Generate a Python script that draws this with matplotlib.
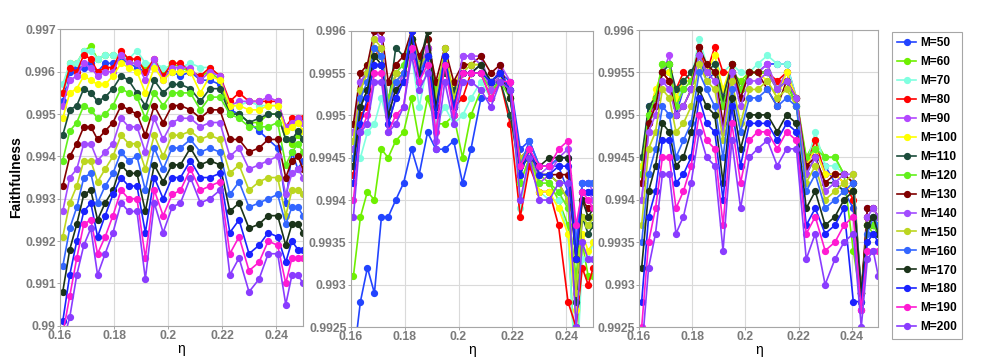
import numpy as np
import matplotlib
matplotlib.use("Agg")
import matplotlib.pyplot as plt

# ------------------------------
# DATA
# ------------------------------

ETA = [0.1610, 0.1636, 0.1662, 0.1688, 0.1714, 0.1739, 0.1767, 0.1796, 0.1826, 0.1854,
       0.1885, 0.1916, 0.1949, 0.1982, 0.2015, 0.2046, 0.2083, 0.2120, 0.2155, 0.2192,
       0.2229, 0.2263, 0.2300, 0.2337, 0.2371, 0.2406, 0.2436, 0.2459, 0.2481, 0.2500]

M_LABELS = ["M=50", "M=60", "M=70", "M=80", "M=90", "M=100", "M=110", "M=120",
            "M=130", "M=140", "M=150", "M=160", "M=170", "M=180", "M=190", "M=200"]

COLORS = ["#2244ff", "#6ef000", "#80ffe0", "#ff0000", "#b347ff", "#ffff00", "#1c4d3c", "#62f01c",
          "#800000", "#a24cff", "#bcd620", "#3366ff", "#1b331a", "#1a22ff", "#ff1ad2", "#8a3cff"]

# panel 1
P1_M50 = [.9953, .9960, .9961, .9961, .9962, .9960, .9962, .9962, .9963, .9962, .9961, .9960, .9962, .9960, .9960,
          .9959, .9960, .9958, .9958, .9957, .9951, .9950, .9948, .9946, .9944, .9942, .9929, .9941, .9937, .9939]
P1_M60 = [.9955, .9962, .9962, .9965, .9966, .9963, .9964, .9964, .9964, .9962, .9962, .9961, .9962, .9960, .9962,
          .9961, .9960, .9959, .9960, .9958, .9950, .9950, .9948, .9948, .9950, .9950, .9944, .9943, .9945, .9944]
P1_M70 = [.9957, .9962, .9962, .9965, .9965, .9963, .9964, .9964, .9964, .9963, .9965, .9962, .9962, .9961, .9961,
          .9961, .9962, .9961, .9961, .9959, .9952, .9952, .9953, .9952, .9952, .9952, .9946, .9947, .9948, .9948]
P1_M80 = [.9955, .9961, .9960, .9964, .9963, .9960, .9961, .9961, .9965, .9963, .9963, .9960, .9963, .9959, .9962,
          .9962, .9960, .9959, .9961, .9959, .9953, .9955, .9953, .9953, .9953, .9953, .9947, .9949, .9949, .9949]
P1_M90 = [.9952, .9958, .9959, .9962, .9961, .9959, .9960, .9960, .9964, .9962, .9962, .9958, .9963, .9958, .9961,
          .9961, .9961, .9958, .9960, .9959, .9952, .9953, .9953, .9953, .9954, .9953, .9947, .9948, .9949, .9948]
P1_M100 = [.9949, .9955, .9956, .9959, .9958, .9957, .9957, .9959, .9962, .9961, .9960, .9955, .9961, .9958, .9960,
           .9960, .9960, .9955, .9959, .9958, .9952, .9952, .9951, .9951, .9952, .9952, .9946, .9947, .9948, .9946]
P1_M110 = [.9945, .9951, .9952, .9956, .9955, .9953, .9954, .9956, .9959, .9958, .9955, .9952, .9958, .9955, .9957,
           .9957, .9956, .9953, .9956, .9956, .9950, .9950, .9948, .9949, .9950, .9950, .9944, .9944, .9946, .9944]
P1_M120 = [.9939, .9946, .9948, .9952, .9951, .9949, .9950, .9952, .9956, .9955, .9954, .9949, .9955, .9952, .9955,
           .9955, .9955, .9951, .9954, .9954, .9950, .9949, .9947, .9947, .9947, .9948, .9938, .9941, .9943, .9941]
P1_M130 = [.9933, .9940, .9943, .9947, .9947, .9944, .9946, .9948, .9952, .9951, .9950, .9945, .9952, .9948, .9952,
           .9952, .9951, .9949, .9951, .9951, .9944, .9944, .9941, .9942, .9944, .9944, .9935, .9939, .9940, .9937]
P1_M140 = [.9927, .9935, .9937, .9943, .9943, .9939, .9941, .9943, .9949, .9947, .9947, .9941, .9949, .9944, .9948,
           .9949, .9949, .9947, .9948, .9948, .9940, .9942, .9937, .9938, .9939, .9940, .9931, .9936, .9937, .9935]
P1_M150 = [.9921, .9929, .9933, .9939, .9939, .9934, .9937, .9940, .9945, .9943, .9943, .9937, .9945, .9940, .9945,
           .9945, .9946, .9944, .9945, .9944, .9936, .9938, .9932, .9934, .9935, .9935, .9926, .9932, .9932, .9931]
P1_M160 = [.9914, .9923, .9928, .9935, .9936, .9929, .9933, .9936, .9941, .9939, .9940, .9932, .9942, .9937, .9942,
           .9942, .9944, .9941, .9942, .9941, .9931, .9934, .9928, .9929, .9930, .9931, .9924, .9928, .9928, .9926]
P1_M170 = [.9908, .9918, .9924, .9931, .9932, .9925, .9929, .9932, .9938, .9936, .9936, .9927, .9938, .9934, .9938,
           .9938, .9942, .9938, .9939, .9938, .9927, .9929, .9923, .9924, .9926, .9926, .9919, .9924, .9924, .9922]
P1_M180 = [.9901, .9912, .9920, .9927, .9929, .9921, .9926, .9931, .9935, .9933, .9933, .9922, .9935, .9930, .9935,
           .9935, .9939, .9935, .9935, .9936, .9922, .9925, .9917, .9919, .9922, .9921, .9915, .9920, .9918, .9918]
P1_M190 = [.9898, .9907, .9916, .9924, .9925, .9917, .9921, .9926, .9932, .9930, .9930, .9916, .9932, .9926, .9931,
           .9932, .9937, .9932, .9933, .9934, .9917, .9921, .9913, .9915, .9920, .9919, .9910, .9916, .9916, .9916]
P1_M200 = [.9896, .9902, .9912, .9919, .9923, .9912, .9917, .9922, .9929, .9927, .9927, .9911, .9929, .9922, .9928,
           .9929, .9935, .9929, .9930, .9932, .9912, .9916, .9908, .9911, .9917, .9917, .9905, .9912, .9912, .9910]

# panel 2
P2_M50 = [.9921, .9928, .9932, .9929, .9938, .9938, .9940, .9942, .9946, .9943, .9948, .9946, .9946, .9947, .9942,
          .9946, .9952, .9952, .9955, .9954, .9946, .9947, .9944, .9944, .9944, .9941, .9928, .9942, .9942, .9942]
P2_M60 = [.9931, .9938, .9941, .9940, .9946, .9945, .9947, .9948, .9952, .9947, .9952, .9949, .9949, .9950, .9945,
          .9950, .9953, .9953, .9954, .9953, .9944, .9945, .9943, .9942, .9940, .9937, .9918, .9935, .9931, .9931]
P2_M70 = [.9945, .9945, .9948, .9949, .9952, .9949, .9952, .9955, .9957, .9951, .9956, .9949, .9951, .9949, .9950,
          .9952, .9954, .9952, .9954, .9953, .9939, .9945, .9941, .9940, .9940, .9936, .9918, .9933, .9933, .9935]
P2_M80 = [.9943, .9950, .9951, .9957, .9958, .9951, .9955, .9955, .9959, .9955, .9958, .9950, .9957, .9951, .9952,
          .9955, .9955, .9952, .9954, .9949, .9938, .9944, .9941, .9941, .9937, .9928, .9925, .9932, .9930, .9932]
P2_M90 = [.9948, .9954, .9955, .9960, .9959, .9949, .9952, .9955, .9958, .9955, .9958, .9947, .9957, .9950, .9957,
          .9957, .9957, .9953, .9956, .9954, .9944, .9946, .9942, .9943, .9945, .9945, .9933, .9941, .9941, .9940]
P2_M100 = [.9947, .9953, .9955, .9958, .9957, .9951, .9954, .9955, .9959, .9955, .9957, .9952, .9957, .9953, .9956,
           .9956, .9956, .9953, .9955, .9953, .9942, .9945, .9941, .9941, .9939, .9936, .9927, .9936, .9934, .9935]
P2_M110 = [.9944, .9951, .9953, .9957, .9957, .9951, .9958, .9957, .9959, .9956, .9960, .9953, .9955, .9953, .9955,
           .9955, .9955, .9954, .9954, .9950, .9943, .9946, .9943, .9943, .9942, .9940, .9928, .9938, .9936, .9937]
P2_M120 = [.9946, .9953, .9956, .9958, .9957, .9952, .9955, .9956, .9960, .9956, .9957, .9953, .9957, .9952, .9955,
           .9955, .9955, .9953, .9954, .9952, .9942, .9945, .9942, .9942, .9941, .9939, .9931, .9938, .9937, .9938]
P2_M130 = [.9949, .9955, .9956, .9960, .9960, .9954, .9956, .9957, .9960, .9957, .9959, .9954, .9958, .9954, .9956,
           .9956, .9957, .9955, .9956, .9952, .9945, .9946, .9943, .9943, .9943, .9943, .9933, .9940, .9939, .9939]
P2_M140 = [.9946, .9954, .9955, .9959, .9959, .9951, .9953, .9955, .9958, .9955, .9957, .9951, .9957, .9951, .9957,
           .9957, .9956, .9953, .9955, .9953, .9944, .9946, .9943, .9944, .9945, .9946, .9935, .9942, .9942, .9941]
P2_M150 = [.9947, .9953, .9955, .9959, .9958, .9951, .9955, .9955, .9959, .9956, .9957, .9952, .9958, .9952, .9955,
           .9956, .9956, .9954, .9955, .9952, .9945, .9946, .9943, .9943, .9942, .9940, .9929, .9938, .9937, .9938]
P2_M160 = [.9945, .9952, .9954, .9958, .9957, .9951, .9954, .9955, .9960, .9955, .9957, .9951, .9957, .9951, .9955,
           .9955, .9956, .9954, .9955, .9953, .9944, .9947, .9944, .9944, .9945, .9945, .9935, .9942, .9942, .9942]
P2_M170 = [.9944, .9951, .9953, .9957, .9956, .9950, .9953, .9954, .9959, .9955, .9960, .9951, .9956, .9951, .9955,
           .9955, .9956, .9954, .9955, .9952, .9944, .9945, .9944, .9945, .9945, .9945, .9933, .9940, .9938, .9939]
P2_M180 = [.9942, .9949, .9952, .9956, .9956, .9949, .9952, .9954, .9960, .9954, .9957, .9950, .9957, .9951, .9955,
           .9955, .9955, .9954, .9955, .9953, .9943, .9946, .9943, .9943, .9944, .9944, .9933, .9941, .9941, .9941]
P2_M190 = [.9940, .9948, .9950, .9955, .9955, .9948, .9950, .9951, .9958, .9954, .9956, .9948, .9956, .9950, .9955,
           .9955, .9955, .9952, .9954, .9954, .9944, .9946, .9944, .9944, .9946, .9947, .9937, .9941, .9940, .9939]
P2_M200 = [.9938, .9948, .9949, .9954, .9954, .9948, .9949, .9951, .9957, .9953, .9955, .9946, .9954, .9949, .9954,
           .9954, .9953, .9951, .9954, .9953, .9940, .9945, .9940, .9940, .9942, .9942, .9925, .9935, .9933, .9933]

# panel 3
P3_M50 = [.9944, .9951, .9952, .9955, .9955, .9950, .9953, .9953, .9957, .9954, .9955, .9951, .9955, .9952, .9955,
          .9955, .9956, .9956, .9956, .9952, .9944, .9945, .9944, .9942, .9941, .9939, .9929, .9938, .9938, .9938]
P3_M60 = [.9943, .9950, .9952, .9956, .9956, .9952, .9954, .9954, .9957, .9955, .9955, .9953, .9955, .9954, .9955,
          .9955, .9955, .9953, .9955, .9952, .9945, .9947, .9945, .9945, .9943, .9934, .9928, .9937, .9936, .9936]
P3_M70 = [.9944, .9950, .9952, .9955, .9955, .9951, .9954, .9954, .9959, .9956, .9956, .9955, .9956, .9955, .9955,
          .9956, .9957, .9956, .9956, .9952, .9944, .9948, .9944, .9944, .9943, .9942, .9929, .9937, .9937, .9936]
P3_M80 = [.9942, .9949, .9952, .9955, .9954, .9953, .9955, .9954, .9958, .9955, .9958, .9955, .9955, .9953, .9955,
          .9955, .9955, .9954, .9955, .9952, .9944, .9947, .9943, .9943, .9942, .9940, .9929, .9938, .9937, .9937]
P3_M90 = [.9940, .9948, .9952, .9955, .9957, .9951, .9953, .9953, .9957, .9955, .9955, .9952, .9956, .9952, .9955,
          .9955, .9956, .9953, .9955, .9952, .9944, .9946, .9943, .9943, .9943, .9942, .9927, .9939, .9939, .9938]
P3_M100 = [.9944, .9950, .9953, .9955, .9955, .9952, .9954, .9954, .9957, .9955, .9957, .9953, .9956, .9953, .9955,
           .9955, .9954, .9952, .9955, .9952, .9944, .9946, .9943, .9943, .9942, .9941, .9929, .9937, .9937, .9937]
P3_M110 = [.9945, .9951, .9952, .9955, .9956, .9953, .9954, .9955, .9957, .9955, .9956, .9952, .9956, .9953, .9955,
           .9955, .9955, .9953, .9954, .9951, .9943, .9945, .9942, .9942, .9941, .9941, .9929, .9937, .9937, .9936]
P3_M120 = [.9943, .9950, .9952, .9956, .9956, .9951, .9953, .9954, .9957, .9955, .9955, .9951, .9955, .9953, .9955,
           .9955, .9955, .9953, .9954, .9951, .9945, .9946, .9945, .9945, .9943, .9942, .9928, .9937, .9937, .9936]
P3_M130 = [.9942, .9949, .9951, .9955, .9954, .9950, .9951, .9953, .9958, .9956, .9955, .9949, .9956, .9952, .9955,
           .9955, .9953, .9951, .9954, .9952, .9944, .9945, .9942, .9943, .9943, .9942, .9929, .9939, .9939, .9938]
P3_M140 = [.9940, .9948, .9950, .9954, .9953, .9950, .9951, .9953, .9957, .9955, .9954, .9948, .9955, .9951, .9954,
           .9954, .9955, .9953, .9954, .9952, .9943, .9945, .9941, .9942, .9943, .9943, .9927, .9938, .9939, .9938]
P3_M150 = [.9937, .9946, .9948, .9953, .9952, .9948, .9949, .9951, .9956, .9954, .9953, .9947, .9954, .9949, .9953,
           .9953, .9954, .9952, .9953, .9951, .9942, .9944, .9940, .9941, .9942, .9943, .9929, .9937, .9938, .9937]
P3_M160 = [.9935, .9943, .9946, .9951, .9950, .9945, .9947, .9949, .9955, .9953, .9951, .9945, .9953, .9948, .9952,
           .9952, .9953, .9951, .9952, .9951, .9941, .9943, .9939, .9940, .9941, .9942, .9929, .9936, .9938, .9937]
P3_M170 = [.9932, .9941, .9944, .9949, .9948, .9944, .9945, .9948, .9953, .9951, .9950, .9942, .9952, .9946, .9950,
           .9950, .9950, .9948, .9950, .9949, .9939, .9941, .9937, .9938, .9940, .9941, .9929, .9937, .9938, .9936]
P3_M180 = [.9928, .9938, .9941, .9947, .9947, .9942, .9943, .9945, .9952, .9949, .9948, .9940, .9951, .9944, .9949,
           .9949, .9949, .9947, .9949, .9948, .9937, .9939, .9936, .9937, .9939, .9928, .9928, .9935, .9936, .9935]
P3_M190 = [.9925, .9935, .9939, .9945, .9945, .9939, .9941, .9944, .9950, .9947, .9946, .9937, .9949, .9942, .9947,
           .9948, .9948, .9946, .9948, .9947, .9936, .9938, .9934, .9935, .9937, .9938, .9927, .9934, .9934, .9934]
P3_M200 = [.9922, .9932, .9936, .9943, .9943, .9936, .9938, .9942, .9948, .9945, .9944, .9934, .9947, .9939, .9945,
           .9946, .9947, .9944, .9946, .9946, .9933, .9936, .9930, .9933, .9935, .9936, .9925, .9933, .9934, .9931]

PANEL1 = [P1_M50, P1_M60, P1_M70, P1_M80, P1_M90, P1_M100, P1_M110, P1_M120,
          P1_M130, P1_M140, P1_M150, P1_M160, P1_M170, P1_M180, P1_M190, P1_M200]
PANEL2 = [P2_M50, P2_M60, P2_M70, P2_M80, P2_M90, P2_M100, P2_M110, P2_M120,
          P2_M130, P2_M140, P2_M150, P2_M160, P2_M170, P2_M180, P2_M190, P2_M200]
PANEL3 = [P3_M50, P3_M60, P3_M70, P3_M80, P3_M90, P3_M100, P3_M110, P3_M120,
          P3_M130, P3_M140, P3_M150, P3_M160, P3_M170, P3_M180, P3_M190, P3_M200]

X_TICKS = [0.16, 0.18, 0.2, 0.22, 0.24]
X_TICKLABELS = ["0.16", "0.18", "0.2", "0.22", "0.24"]
Y1_TICKS = [0.990, 0.991, 0.992, 0.993, 0.994, 0.995, 0.996, 0.997]
Y1_TICKLABELS = ["0.99", "0.991", "0.992", "0.993", "0.994", "0.995", "0.996", "0.997"]
Y2_TICKS = [0.9925, 0.993, 0.9935, 0.994, 0.9945, 0.995, 0.9955, 0.996]
Y2_TICKLABELS = ["0.9925", "0.993", "0.9935", "0.994", "0.9945", "0.995", "0.9955", "0.996"]

# ------------------------------
# STYLE
# ------------------------------

plt.rcParams['font.family'] = ['Liberation Sans', 'DejaVu Sans']
TICK_GRAY = "#7a7a7a"
FRAME_GRAY = "#a6a6a6"
GRID_GRAY = "#dadada"


def style_axes(ax, yticks, ylabels, ylim):
    ax.set_xlim(0.16, 0.25)
    ax.set_ylim(*ylim)
    ax.set_xticks(X_TICKS)
    ax.set_xticklabels(X_TICKLABELS)
    ax.set_yticks(yticks)
    ax.set_yticklabels(ylabels)
    ax.grid(True, color=GRID_GRAY, linewidth=0.8)
    ax.set_axisbelow(True)
    for sp in ax.spines.values():
        sp.set_color(FRAME_GRAY)
        sp.set_linewidth(0.8)
    ax.tick_params(direction='out', length=2, width=0.7, color=FRAME_GRAY,
                   labelcolor=TICK_GRAY, labelsize=8.8, pad=1)
    for lab in ax.get_xticklabels() + ax.get_yticklabels():
        lab.set_fontweight('bold')
    ax.set_xlabel("η", fontsize=10, labelpad=0)


def draw_panel(ax, series):
    lines = []
    for vals, col, lab in zip(series, COLORS, M_LABELS):
        ln, = ax.plot(ETA, vals, color=col, marker='o', markersize=4.2,
                      linewidth=1.2, label=lab)
        lines.append(ln)
    return lines


if __name__ == "__main__":
    fig = plt.figure(figsize=(9.81, 3.64), dpi=100)
    ax1 = fig.add_axes([0.0612, 0.1052, 0.2477, 0.8140])
    ax2 = fig.add_axes([0.3575, 0.1016, 0.2473, 0.8140])
    ax3 = fig.add_axes([0.6514, 0.1016, 0.2439, 0.8159])

    handles = draw_panel(ax1, PANEL1)
    draw_panel(ax2, PANEL2)
    draw_panel(ax3, PANEL3)

    style_axes(ax1, Y1_TICKS, Y1_TICKLABELS, (0.990, 0.997))
    style_axes(ax2, Y2_TICKS, Y2_TICKLABELS, (0.9925, 0.996))
    style_axes(ax3, Y2_TICKS, Y2_TICKLABELS, (0.9925, 0.996))
    ax1.set_ylabel("Faithfulness", fontsize=10, fontweight='bold')
    ax1.yaxis.set_label_coords(-0.152, 0.5)

    leg = fig.legend(handles=handles, loc='upper left', bbox_to_anchor=(892 / 981, 1 - 32 / 364),
                     frameon=True, fancybox=False, edgecolor=FRAME_GRAY, framealpha=1,
                     borderaxespad=0, handlelength=1.6, handletextpad=0.3, labelspacing=0.58,
                     borderpad=0.45, prop={'weight': 'bold', 'size': 8.6})
    leg.get_frame().set_linewidth(0.8)

    fig.savefig("out.png", dpi=100)
